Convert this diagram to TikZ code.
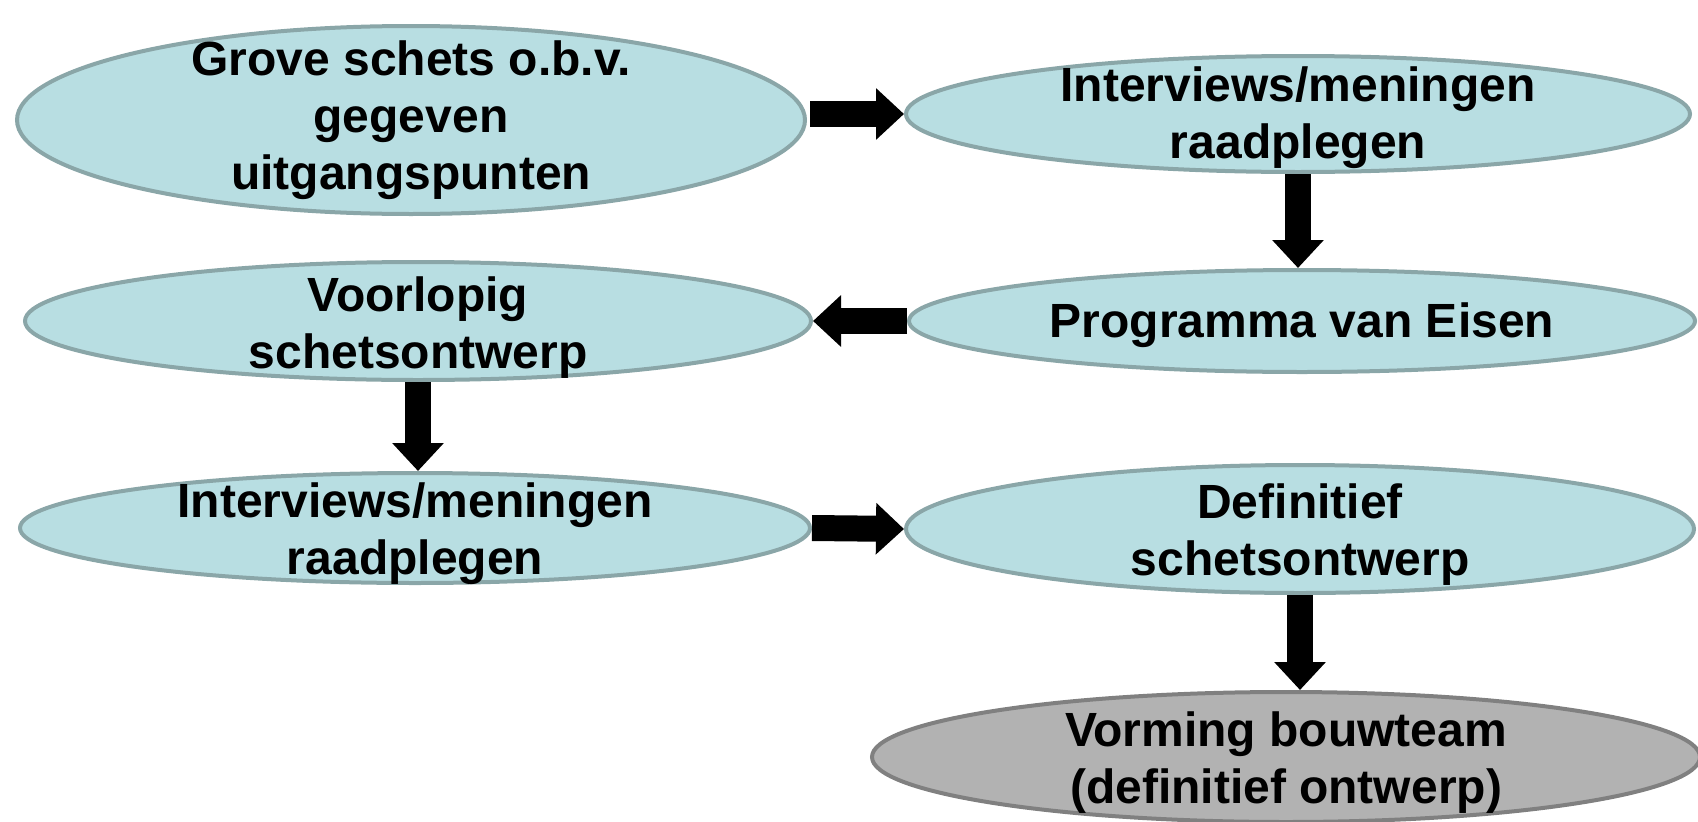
\documentclass[tikz,border=0pt]{standalone}
\usepackage{fontspec}
\setmainfont{Liberation Sans}
\usetikzlibrary{shapes.geometric,arrows.meta}
\definecolor{fillblue}{RGB}{184,222,226}
\definecolor{edgeblue}{RGB}{138,166,168}
\definecolor{fillgray}{RGB}{178,178,178}
\definecolor{edgegray}{RGB}{128,128,128}
\tikzset{
  stage/.style={ellipse, draw=edgeblue, fill=fillblue, line width=4pt, inner sep=0pt},
  finalstage/.style={stage, draw=edgegray, fill=fillgray},
  stagetext/.style={inner sep=0pt, align=center, font=\fontsize{48}{57}\selectfont\bfseries},
  blockarrow/.style={line width=26pt, -{Triangle[width=50pt,length=28pt]}, black}
}
\begin{document}
\begin{tikzpicture}[x=1pt,y=-1pt]
\useasboundingbox (0,0) rectangle (1698,822);
\node[stage, minimum width=788pt, minimum height=188pt] (e1) at (411,120) {};
\node[stage, minimum width=784pt, minimum height=116pt] (e2) at (1298,114) {};
\node[stage, minimum width=786pt, minimum height=118pt] (e3) at (418,321) {};
\node[stage, minimum width=786pt, minimum height=102pt] (e4) at (1302,321) {};
\node[stage, minimum width=790pt, minimum height=110pt] (e5) at (415,528) {};
\node[stage, minimum width=788pt, minimum height=128pt] (e6) at (1300,529) {};
\node[finalstage, minimum width=828pt, minimum height=130pt] (e7) at (1286,757) {};
\node[stagetext] (t1) at (e1.center) {Grove schets o.b.v.\\gegeven\\uitgangspunten};
\node[stagetext] (t2) at ([yshift=-4pt]e2.center) {Interviews/meningen\\raadplegen};
\node[stagetext] (t3) at ([yshift=-7pt]e3.center) {Voorlopig\\schetsontwerp};
\node[stagetext] (t4) at ([yshift=-4.5pt]e4.center) {Programma van Eisen};
\node[stagetext] (t5) at ([yshift=-5.5pt]e5.center) {Interviews/meningen\\raadplegen};
\node[stagetext] (t6) at ([yshift=-5.5pt]e6.center) {Definitief\\schetsontwerp};
\node[stagetext] (t7) at ([yshift=-5.5pt]e7.center) {Vorming bouwteam\\(definitief ontwerp)};
\draw[blockarrow] ([xshift=3pt]e1.east |- e2.west) -- (e2.west);
\draw[blockarrow] (e2.south) -- (e2.south |- e4.north);
\draw[blockarrow] (e4.west) -- (e3.east);
\draw[blockarrow] (e3.south) -- (e3.south |- e5.north);
\draw[blockarrow] (e5.east) -- (e6.west);
\draw[blockarrow] (e6.south) -- (e6.south |- e7.north);
\end{tikzpicture}
\end{document}
